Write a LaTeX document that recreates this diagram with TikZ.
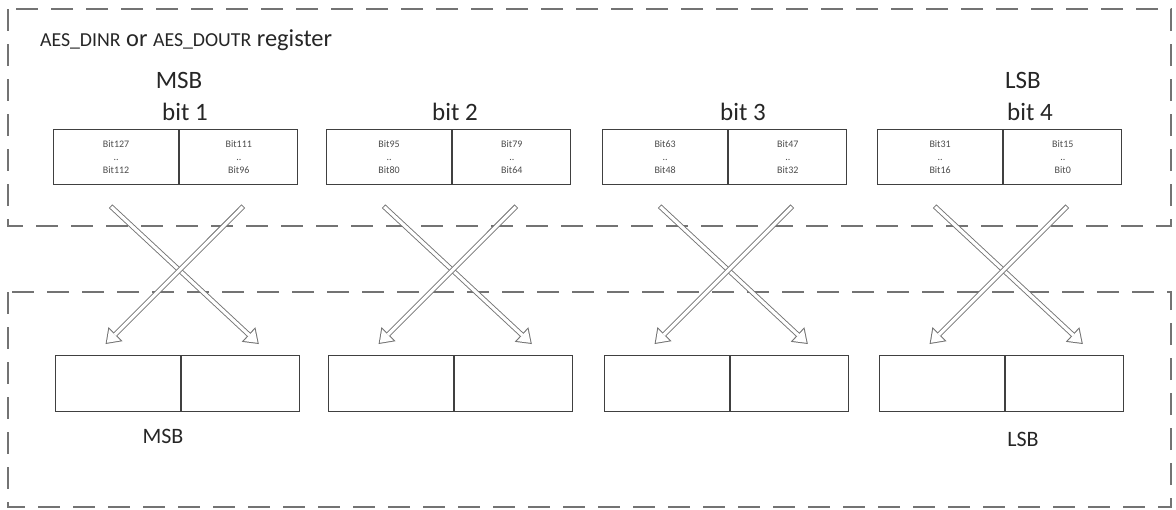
\documentclass[tikz,border=0pt]{standalone}
\usepackage{fontspec}
\setmainfont{Carlito}
\usetikzlibrary{arrows.meta,positioning}

\begin{document}
\begin{tikzpicture}[
    x=0.5pt, y=-0.5pt,
    cell/.style={draw=black!75, line width=0.6pt, minimum width=62.5pt,
      minimum height=27.5pt, inner sep=0pt, anchor=north west,
      font=\fontsize{5}{6.5}\selectfont, align=center, text=black!70},
    hdr/.style={font=\fontsize{12.5}{14}\selectfont, text=black!85},
    foot/.style={font=\fontsize{11}{13}\selectfont, text=black!85},
    regbox/.style={draw=black!55, line width=0.7pt, dash pattern=on 11pt off 6.5pt},
    % hollow block arrow: grey outline pass, then white core pass
    crossarr/.style={
      preaction={draw=black!55, line width=2.5pt, shorten >=0pt, shorten <=0pt,
        -{Triangle[length=7pt, width=10pt, line width=0pt]}},
      draw=white, line width=1.6pt, shorten >=0.86pt, shorten <=0.45pt,
      -{Triangle[length=5.6pt, width=8pt, line width=0pt]}},
  ]
    % picture frame (pixel grid, y down)
    \useasboundingbox (0,0) rectangle (1176,509);

    % --- register / result areas ---
    \draw[regbox] (8,9) rectangle (1171,226);
    \draw[regbox] (8,292) rectangle (1171,507);

    \node[anchor=west, text=black!85, font=\fontsize{12.2}{14}\selectfont] (reg) at (33,40)
      {{\fontsize{9.9}{12}\selectfont AES\_DINR} or {\fontsize{9.9}{12}\selectfont AES\_DOUTR} register};

    \node[hdr] (msbtop) at (179,80) {MSB};
    \node[hdr] (lsbtop) at (1023,80) {LSB};

    % --- four 32-bit words, halves swapped ---
    \foreach \i/\xo/\hx/\ha/\hb/\hc/\hd in {1/53/185/127/112/111/96,
        2/326/455/95/80/79/64, 3/602/743/63/48/47/32, 4/877/1030/31/16/15/0} {
      \node[hdr] (h\i) at (\hx,112) {bit \i};
      \node[cell] (t\i a) at (\xo,129) {Bit\ha\\..\\Bit\hb};
      \node[cell, minimum width=59pt] (t\i b) at (t\i a.north east) {Bit\hc\\..\\Bit\hd};
      \node[cell, minimum height=28pt] (b\i a) at (\xo+2,355) {};
      \node[cell, minimum height=28pt, minimum width=59pt] (b\i b) at (b\i a.north east) {};
      \draw[crossarr] ([xshift=-2.75pt,yshift=-10.5pt]t\i a.south)
        -- ([xshift=9pt,yshift=5.5pt]b\i b.north);
      \draw[crossarr] ([xshift=2.25pt,yshift=-10.5pt]t\i b.south)
        -- ([xshift=-6.25pt,yshift=5.5pt]b\i a.north);
    }

    \node[foot] (msbbot) at (163,436) {MSB};
    \node[foot] (lsbbot) at (1023,439) {LSB};

  \end{tikzpicture}
\end{document}
